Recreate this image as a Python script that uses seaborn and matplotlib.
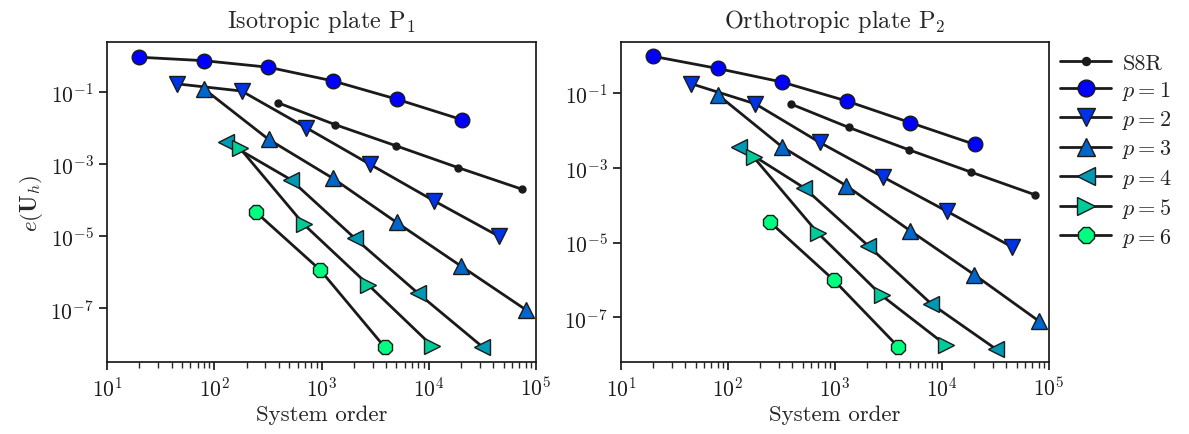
import numpy as np
import pandas as pd
import matplotlib
matplotlib.use("Agg")
import matplotlib.pyplot as plt
import matplotlib.ticker as mticker
import seaborn as sns

# ---------------- data ----------------
labels = ["S8R", "$p=1$", "$p=2$", "$p=3$", "$p=4$", "$p=5$", "$p=6$"]

x_s8r = [390, 1340, 4930, 18800, 73800]
x_p1 = [20, 80, 320, 1280, 5070, 20200]
x_p2 = [45, 180, 716, 2825, 11200, 45300]
x_p3 = [80, 321, 1277, 5010, 19950, 80400]
x_p4 = [128, 515, 2046, 7950, 31700]
x_p5 = [174, 686, 2720, 10800]
x_p6 = [245, 973, 3890]

# Isotropic plate P1
iso_s8r = [0.050, 0.0123, 0.0032, 7.9e-4, 2.0e-4]
iso_p1 = [0.91, 0.73, 0.48, 0.20, 0.062, 0.017]
iso_p2 = [0.166, 0.105, 0.0102, 9.8e-4, 9.5e-5, 9.8e-6]
iso_p3 = [0.121, 0.0048, 4.0e-4, 2.4e-5, 1.48e-6, 9.1e-8]
iso_p4 = [0.0041, 3.7e-4, 8.7e-6, 2.6e-7, 8.5e-9]
iso_p5 = [0.0027, 2.1e-5, 4.5e-7, 8.9e-9]
iso_p6 = [4.6e-5, 1.15e-6, 8.3e-9]

# Orthotropic plate P2
ort_s8r = [0.050, 0.012, 0.0030, 7.6e-4, 1.9e-4]
ort_p1 = [0.95, 0.45, 0.195, 0.061, 0.016, 0.0042]
ort_p2 = [0.177, 0.051, 0.0048, 5.6e-4, 6.8e-5, 7.6e-6]
ort_p3 = [0.090, 0.0036, 3.3e-4, 2.1e-5, 1.4e-6, 8.0e-8]
ort_p4 = [0.0036, 2.9e-4, 8.2e-6, 2.3e-7, 1.45e-8]
ort_p5 = [0.0019, 1.85e-5, 3.9e-7, 1.85e-8]
ort_p6 = [3.6e-5, 1.0e-6, 1.65e-8]

titles = ["Isotropic plate P$_1$", "Orthotropic plate P$_2$"]
xlabel = "System order"
ylabel = r"$e(\mathbf{U}_h)$"

# ---------------- style ----------------
sns.set_theme(style="ticks")
plt.rcParams["font.family"] = ["cmr10", "DejaVu Serif"]
plt.rcParams["mathtext.fontset"] = "cm"
plt.rcParams["axes.formatter.use_mathtext"] = True
plt.rcParams["font.size"] = 16

winter = plt.cm.winter(np.linspace(0, 1, 6))
markers = [".", "o", "v", "^", "<", ">", "8"]
msizes = [10, 10.5, 11, 11, 11, 11, 10.5]
face = ["k"] + [winter[i] for i in range(6)]

xs = [x_s8r, x_p1, x_p2, x_p3, x_p4, x_p5, x_p6]
panels = [
    [iso_s8r, iso_p1, iso_p2, iso_p3, iso_p4, iso_p5, iso_p6],
    [ort_s8r, ort_p1, ort_p2, ort_p3, ort_p4, ort_p5, ort_p6],
]
ylims = [(10 ** -8.49, 10 ** 0.38), (10 ** -8.19, 10 ** 0.36)]

fig = plt.figure(figsize=(11.89, 4.35), dpi=100)
ax_pos = [[0.090, 0.1655, 0.3608, 0.7356], [0.5223, 0.1655, 0.360, 0.7356]]

axes = []
for k in range(2):
    ax = fig.add_axes(ax_pos[k])
    axes.append(ax)
    for i in range(7):
        sns.lineplot(x=xs[i], y=panels[k][i], ax=ax, color="k", lw=2.0,
                     marker=markers[i], markersize=msizes[i],
                     markerfacecolor=face[i], markeredgecolor="k",
                     markeredgewidth=1.0, label=labels[i], sort=False,
                     zorder=3, legend=False)
    ax.set_xscale("log")
    ax.set_yscale("log")
    ax.set_xlim(10, 1e5)
    ax.set_ylim(*ylims[k])
    ax.yaxis.set_major_locator(mticker.FixedLocator([1e-1, 1e-3, 1e-5, 1e-7]))
    ax.yaxis.set_minor_locator(mticker.NullLocator())
    ax.xaxis.set_major_locator(mticker.LogLocator(base=10, numticks=10))
    ax.xaxis.set_minor_locator(mticker.LogLocator(base=10, subs=np.arange(2, 10), numticks=20))
    ax.set_title(titles[k], fontsize=17.5, pad=11)
    ax.set_xlabel(xlabel, fontsize=16.5)
    for s in ax.spines.values():
        s.set_visible(True)
        s.set_color("k")
    ax.tick_params(axis="both", labelsize=15.5, colors="k")

axes[0].set_ylabel(ylabel, fontsize=16.5)

handles, labs = axes[1].get_legend_handles_labels()
axes[1].legend(handles, labs, loc="upper left", bbox_to_anchor=(1.0, 1.0),
               frameon=False, fontsize=16, handlelength=2.3, labelspacing=0.28,
               handletextpad=0.5, borderaxespad=0.1, markerscale=1.15)

fig.savefig("out.png", dpi=100)
